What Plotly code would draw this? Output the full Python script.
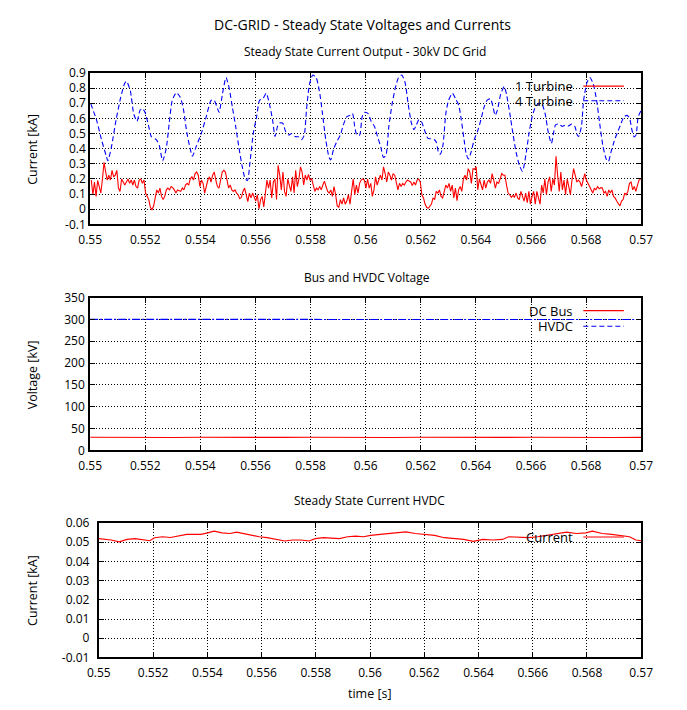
import numpy as np
import plotly.graph_objects as go

# ---------------- data ----------------
# Steady-state current, single turbine (kA), logged at a fixed solver step
t_start, t_end = 0.55004, 0.56998
i_1turbine = [
    0.193, 0.096, 0.18, 0.085, 0.19, 0.14, 0.107, 0.20, 0.31, 0.246, 0.193, 0.225, 0.193, 0.257, 0.214,
    0.225, 0.257, 0.14, 0.118, 0.20, 0.18, 0.16, 0.18, 0.20, 0.171, 0.193, 0.16, 0.193, 0.15, 0.14,
    0.193, 0.20, 0.171, 0.193, 0.107, 0.085, 0.064, 0.013, -0.002, 0.02, 0.085, 0.128, 0.107, 0.14, 0.085,
    0.064, 0.085, 0.128, 0.14, 0.128, 0.15, 0.143, 0.128, 0.107, 0.128, 0.12, 0.118, 0.14, 0.128, 0.16,
    0.171, 0.16, 0.20, 0.214, 0.193, 0.236, 0.246, 0.225, 0.15, 0.193, 0.171, 0.107, 0.16, 0.193, 0.214,
    0.18, 0.225, 0.246, 0.193, 0.15, 0.14, 0.20, 0.246, 0.257, 0.246, 0.193, 0.14,
    0.16, 0.128, 0.118, 0.128, 0.107, 0.096, 0.07, 0.079, 0.118, 0.14, 0.096, 0.05, 0.107, 0.075, 0.107,
    0.085, 0.054, 0.096, 0.002, 0.064, 0.085, 0.015, 0.107, 0.193, 0.14, 0.193, 0.075, 0.18, 0.20, 0.064,
    0.29, 0.225, 0.128, 0.246, 0.118, 0.085, 0.20, 0.15, 0.118, 0.214, 0.107, 0.257, 0.15, 0.20, 0.28,
    0.246, 0.16, 0.225, 0.193, 0.23, 0.193, 0.20, 0.15, 0.118, 0.14, 0.128, 0.15, 0.128, 0.16, 0.186,
    0.15, 0.118, 0.107, 0.128, 0.085, 0.15, 0.096, 0.022, 0.013, 0.064, 0.034, 0.075, 0.034, 0.054, 0.096,
    0.034, 0.118, 0.20, 0.096, 0.16, 0.107, 0.171, 0.193, 0.20, 0.193, 0.14,
    0.20, 0.14, 0.171, 0.085, 0.128, 0.214, 0.16, 0.20, 0.225, 0.193, 0.28, 0.236, 0.18, 0.246, 0.225,
    0.193, 0.236, 0.225, 0.18, 0.128, 0.171, 0.15, 0.171, 0.16, 0.18, 0.193, 0.186, 0.18, 0.156, 0.18,
    0.16, 0.193, 0.20, 0.18, 0.096, 0.075, 0.034, 0.013, 0.006, 0.022, 0.034, 0.075, 0.064, 0.118, 0.107,
    0.128, 0.085, 0.075, 0.118, 0.16, 0.14, 0.171, 0.118, 0.16, 0.075, 0.14, 0.057, 0.128, 0.15, 0.118,
    0.20, 0.225, 0.193, 0.268, 0.246, 0.171, 0.268, 0.264, 0.28, 0.128, 0.20, 0.171, 0.128, 0.193, 0.14,
    0.18, 0.193, 0.171, 0.236, 0.193, 0.14, 0.18, 0.171, 0.20, 0.236, 0.225,
    0.225, 0.16, 0.107, 0.096, 0.079, 0.092, 0.079, 0.107, 0.075, 0.064, 0.118, 0.085, 0.054, 0.107, 0.043,
    0.118, 0.034, 0.085, 0.118, 0.034, 0.118, 0.075, 0.034, 0.16, 0.107, 0.20, 0.096, 0.18, 0.214, 0.118,
    0.20, 0.16, 0.35, 0.225, 0.118, 0.246, 0.128, 0.193, 0.096, 0.20, 0.15, 0.096, 0.193, 0.268, 0.225,
    0.18, 0.193, 0.18, 0.15, 0.193, 0.236, 0.193, 0.171, 0.16, 0.128, 0.107, 0.14, 0.128, 0.15, 0.135,
    0.143, 0.14, 0.107, 0.118, 0.085, 0.128, 0.107, 0.128, 0.085, 0.075, 0.054, 0.034, 0.022, 0.054, 0.064,
    0.107, 0.096, 0.118, 0.171, 0.18, 0.128, 0.15, 0.118, 0.16, 0.193, 0.20,
]
t_1turbine = np.linspace(t_start, t_end, len(i_1turbine))

# Steady-state current, four turbines (kA)
t_4turbine = [
    0.55002, 0.55023, 0.55041, 0.55058, 0.55064, 0.55076, 0.55094, 0.55111, 0.55125, 0.55132, 0.55146,
    0.55158, 0.5517, 0.55181, 0.5519, 0.55199, 0.55211, 0.55222, 0.5524, 0.55251, 0.55263, 0.55276,
    0.55287, 0.55298, 0.55313, 0.55327, 0.55339, 0.55351, 0.55363, 0.55371, 0.55386, 0.55404, 0.55421,
    0.55439, 0.5545, 0.55462, 0.55468, 0.5548, 0.55493,
    0.55504, 0.55516, 0.55528, 0.55539, 0.55551, 0.55563, 0.55571, 0.5558, 0.55592, 0.55604, 0.55615,
    0.55627, 0.55639, 0.5565, 0.55662, 0.55671, 0.5568, 0.55688, 0.55699, 0.55709, 0.5572, 0.55732,
    0.55744, 0.55756, 0.55767, 0.55777, 0.55785, 0.55796, 0.55808, 0.5582, 0.55832, 0.55843, 0.55855,
    0.55867, 0.55873, 0.55884, 0.55896, 0.55908, 0.55919, 0.55931, 0.55943, 0.55952, 0.5596, 0.55968,
    0.55978, 0.55987, 0.55995,
    0.56008, 0.5602, 0.56032, 0.56043, 0.56055, 0.56064, 0.56073, 0.56084, 0.56096, 0.56108, 0.56119,
    0.56131, 0.56143, 0.56154, 0.56166, 0.56175, 0.56184, 0.56193, 0.56202, 0.56213, 0.56225, 0.56236,
    0.56248, 0.56256, 0.56265, 0.56271, 0.5628, 0.56291, 0.56301, 0.56315, 0.56326, 0.56338, 0.56347,
    0.56357, 0.56365, 0.56373, 0.56382, 0.56394, 0.56406, 0.56418, 0.5643, 0.56441, 0.56453, 0.56462,
    0.5647, 0.56478, 0.5649,
    0.56503, 0.56511, 0.56523, 0.56534, 0.56546, 0.56558, 0.56569, 0.56581, 0.56593, 0.56604, 0.56616,
    0.56628, 0.56639, 0.56651, 0.56663, 0.56674, 0.56682, 0.56689, 0.56701, 0.56713, 0.56724, 0.56736,
    0.56748, 0.56759, 0.56768, 0.56773, 0.56783, 0.56791, 0.56803, 0.56814, 0.56826, 0.56838, 0.56849,
    0.56861, 0.56873, 0.56881, 0.5689, 0.56902, 0.56913, 0.56925, 0.56937, 0.56949, 0.56958, 0.56966,
    0.56974, 0.56981, 0.56989, 0.57,
]
i_4turbine = [
    0.697, 0.59, 0.46, 0.354, 0.32, 0.40, 0.59, 0.74, 0.83, 0.845, 0.78,
    0.63, 0.58, 0.654, 0.665, 0.64, 0.56, 0.48, 0.46, 0.42, 0.32, 0.40,
    0.57, 0.72, 0.77, 0.74, 0.654, 0.504, 0.40, 0.35, 0.42, 0.504, 0.61,
    0.72, 0.72, 0.665, 0.64, 0.76, 0.87,
    0.804, 0.676, 0.547, 0.418, 0.29, 0.20, 0.19, 0.31, 0.50, 0.61, 0.72,
    0.73, 0.766, 0.70, 0.59, 0.48, 0.547, 0.57, 0.568, 0.515, 0.49, 0.50,
    0.48, 0.478, 0.46, 0.49, 0.654, 0.826, 0.886, 0.87, 0.78, 0.633, 0.46,
    0.343, 0.326, 0.40, 0.45, 0.49, 0.557, 0.61, 0.62, 0.633, 0.547, 0.49,
    0.49, 0.61, 0.64,
    0.633, 0.58, 0.547, 0.48, 0.41, 0.343, 0.354, 0.547, 0.697, 0.804, 0.869,
    0.886, 0.836, 0.697, 0.568, 0.525, 0.557, 0.59, 0.58, 0.525, 0.47, 0.465,
    0.46, 0.444, 0.37, 0.364, 0.418, 0.633, 0.72, 0.766, 0.73, 0.686, 0.59,
    0.46, 0.364, 0.332, 0.375, 0.46, 0.515, 0.59, 0.676, 0.72, 0.73, 0.676,
    0.62, 0.654, 0.76,
    0.81, 0.76, 0.633, 0.504, 0.375, 0.29, 0.25, 0.354, 0.504, 0.61, 0.676,
    0.70, 0.697, 0.633, 0.504, 0.435, 0.504, 0.557, 0.563, 0.547, 0.555, 0.55,
    0.563, 0.547, 0.49, 0.48, 0.547, 0.72, 0.836, 0.87, 0.826, 0.72, 0.57,
    0.418, 0.332, 0.315, 0.375, 0.45, 0.504, 0.557, 0.61, 0.62, 0.60, 0.525,
    0.478, 0.49, 0.61, 0.654,
]

# Bus and HVDC voltages (kV)
t_voltage = [0.55, 0.551, 0.552, 0.553, 0.554, 0.555, 0.556, 0.557, 0.558, 0.559, 0.56,
             0.561, 0.562, 0.563, 0.564, 0.565, 0.566, 0.567, 0.568, 0.569, 0.57]
v_dc_bus = [30.3, 29.7, 30.2, 29.8, 30.4, 29.7, 30.1, 29.9, 30.3, 29.6, 30.2,
            29.8, 30.4, 29.7, 30.1, 29.9, 30.3, 29.6, 30.2, 29.8, 30.1]
v_hvdc = [300.1, 299.9, 300.1, 300.0, 299.9, 300.1, 300.0, 299.9, 300.1, 300.0, 299.9,
          300.1, 300.0, 299.9, 300.1, 300.0, 299.9, 300.1, 300.0, 299.9, 300.0]

# HVDC line current (kA)
t_hvdc = [
    0.55, 0.55021, 0.55045, 0.55075, 0.55104, 0.55134, 0.55164, 0.55188, 0.55205, 0.55235, 0.55264,
    0.55294, 0.55324, 0.55353, 0.55377, 0.55401, 0.55425, 0.55454, 0.55484, 0.55508, 0.55531, 0.55561,
    0.55591, 0.5562, 0.5565, 0.55686, 0.55715, 0.55745, 0.55775, 0.55798, 0.55828, 0.55858, 0.55887,
    0.55917, 0.55947, 0.55976, 0.56002, 0.56037, 0.56072, 0.56108, 0.56132, 0.56167, 0.56203, 0.56238,
    0.56274, 0.5631, 0.56345, 0.56381, 0.56416, 0.56452, 0.56488, 0.56511, 0.56547, 0.56583, 0.56618,
    0.56654, 0.5669, 0.56725, 0.56761, 0.56796, 0.5682, 0.56856, 0.56891, 0.56927, 0.56957, 0.5698, 0.57,
]
i_hvdc = [
    0.0519, 0.0515, 0.0512, 0.0502, 0.0515, 0.0519, 0.0515, 0.0508, 0.0524, 0.0529, 0.0525,
    0.0532, 0.0541, 0.0541, 0.0541, 0.0549, 0.0558, 0.0549, 0.0546, 0.0553, 0.0546, 0.0536,
    0.0529, 0.0524, 0.0515, 0.0507, 0.0512, 0.0512, 0.0507, 0.0519, 0.0524, 0.0520, 0.0519,
    0.0529, 0.0532, 0.0529, 0.0536, 0.0541, 0.0546, 0.0549, 0.0554, 0.0546, 0.0541, 0.0536,
    0.0524, 0.0519, 0.0515, 0.0505, 0.0515, 0.0512, 0.0515, 0.0529, 0.0525, 0.0524, 0.0529,
    0.0536, 0.0546, 0.0553, 0.0546, 0.0549, 0.0558, 0.0546, 0.0541, 0.0536, 0.0529, 0.0512, 0.0508,
]

# tick labels
x_ticks = [0.55, 0.552, 0.554, 0.556, 0.558, 0.56, 0.562, 0.564, 0.566, 0.568, 0.57]
x_ticklabels = ["0.55", "0.552", "0.554", "0.556", "0.558", "0.56", "0.562", "0.564", "0.566", "0.568", "0.57"]
y1_ticks = [-0.1, 0, 0.1, 0.2, 0.3, 0.4, 0.5, 0.6, 0.7, 0.8, 0.9]
y1_ticklabels = ["-0.1", "0", "0.1", "0.2", "0.3", "0.4", "0.5", "0.6", "0.7", "0.8", "0.9"]
y2_ticks = [0, 50, 100, 150, 200, 250, 300, 350]
y2_ticklabels = ["0", "50", "100", "150", "200", "250", "300", "350"]
y3_ticks = [-0.01, 0, 0.01, 0.02, 0.03, 0.04, 0.05, 0.06]
y3_ticklabels = ["-0.01", "0", "0.01", "0.02", "0.03", "0.04", "0.05", "0.06"]

# ---------------- styling ----------------
W, H = 687, 710
FONT = "Open Sans"
RED = "#ff0000"
BLUE = "#0000ff"
DASH = "5px,3px"


def px_x(p):
    return p / W


def px_y(p):
    return 1 - p / H


fig = go.Figure()

fig.add_trace(go.Scatter(x=t_1turbine, y=i_1turbine, mode="lines", line=dict(color=RED, width=1.1),
                         xaxis="x", yaxis="y", showlegend=False))
fig.add_trace(go.Scatter(x=t_4turbine, y=i_4turbine, mode="lines",
                         line=dict(color=BLUE, width=1.1, dash=DASH, shape="spline", smoothing=0.6),
                         xaxis="x", yaxis="y", showlegend=False))
fig.add_trace(go.Scatter(x=t_voltage, y=v_dc_bus, mode="lines", line=dict(color=RED, width=1.1),
                         xaxis="x2", yaxis="y2", showlegend=False))
fig.add_trace(go.Scatter(x=t_voltage, y=v_hvdc, mode="lines", line=dict(color=BLUE, width=1.1, dash="8px,2px,2px,2px"),
                         xaxis="x2", yaxis="y2", showlegend=False))
fig.add_trace(go.Scatter(x=t_hvdc, y=i_hvdc, mode="lines", line=dict(color=RED, width=1.1),
                         xaxis="x3", yaxis="y3", showlegend=False))

common_axis = dict(
    showline=True, linecolor="black", linewidth=2, mirror="ticks",
    ticks="inside", ticklen=5, tickwidth=1, tickcolor="black",
    showgrid=True, gridcolor="black", gridwidth=1, griddash="1px,2px",
    zeroline=False, tickfont=dict(family=FONT, size=12, color="black"),
    tickmode="array",
)

# plot-area pixel boxes: (left, right, top, bottom)
box1 = (81, 652, 65.5, 220.7)
box2 = (81, 652, 295.7, 452.3)
box3 = (90, 652, 526.7, 664.3)

fig.update_layout(
    width=W, height=H, margin=dict(l=0, r=0, t=0, b=0),
    paper_bgcolor="white", plot_bgcolor="white",
    font=dict(family=FONT, size=12, color="black"),
    xaxis=dict(common_axis, domain=[px_x(box1[0]), px_x(box1[1])], range=[0.55, 0.57], anchor="y",
               tickvals=x_ticks, ticktext=x_ticklabels, ticklabelstandoff=3),
    yaxis=dict(common_axis, domain=[px_y(box1[3]), px_y(box1[2])], range=[-0.1, 0.9], anchor="x",
               tickvals=y1_ticks, ticktext=y1_ticklabels, ticklabelstandoff=0),
    xaxis2=dict(common_axis, domain=[px_x(box2[0]), px_x(box2[1])], range=[0.55, 0.57], anchor="y2",
                tickvals=x_ticks, ticktext=x_ticklabels, ticklabelstandoff=3),
    yaxis2=dict(common_axis, domain=[px_y(box2[3]), px_y(box2[2])], range=[0, 350], anchor="x2",
                tickvals=y2_ticks, ticktext=y2_ticklabels, ticklabelstandoff=1),
    xaxis3=dict(common_axis, domain=[px_x(box3[0]), px_x(box3[1])], range=[0.55, 0.57], anchor="y3",
                tickvals=x_ticks, ticktext=x_ticklabels, ticklabelstandoff=3),
    yaxis3=dict(common_axis, domain=[px_y(box3[3]), px_y(box3[2])], range=[-0.01, 0.06], anchor="x3",
                tickvals=y3_ticks, ticktext=y3_ticklabels, ticklabelstandoff=5),
)

annotations = []


def add_text(text, x, y, size=12, xanchor="center", angle=0):
    annotations.append(dict(text=text, x=px_x(x), y=px_y(y), xref="paper", yref="paper",
                            xanchor=xanchor, yanchor="middle", showarrow=False, textangle=angle,
                            font=dict(family=FONT, size=size, color="black")))


# titles
add_text("DC-GRID - Steady State Voltages and Currents", 363, 16, size=14)
add_text("Steady State Current Output - 30kV DC Grid", 366, 44, size=12)
add_text("Bus and HVDC Voltage", 368, 275, size=12)
add_text("Steady State Current HVDC", 370, 504, size=12)

# axis titles
add_text("Current [kA]", 21, 144, size=12.5, angle=-90)
add_text("Voltage [kV]", 21, 375, size=12.5, angle=-90)
add_text("Current [kA]", 21, 596, size=12.5, angle=-90)
add_text("time [s]", 371, 701, size=12.5)

# keys: label on the left, line sample on the right
shapes = []


def add_key(label, y, color, dash):
    add_text(label, 583, y, size=13, xanchor="right")
    shapes.append(dict(type="line", xref="paper", yref="paper", x0=px_x(592), x1=px_x(634),
                       y0=px_y(y), y1=px_y(y), line=dict(color=color, width=1.1, dash=dash)))


add_key("1 Turbine", 79, RED, "solid")
add_key("4 Turbine", 94, BLUE, DASH)
add_key("DC Bus", 309, RED, "solid")
add_key("HVDC", 325, BLUE, DASH)
add_key("Current", 541, RED, "solid")

fig.update_layout(annotations=annotations, shapes=shapes)

fig.write_html("out.html")
